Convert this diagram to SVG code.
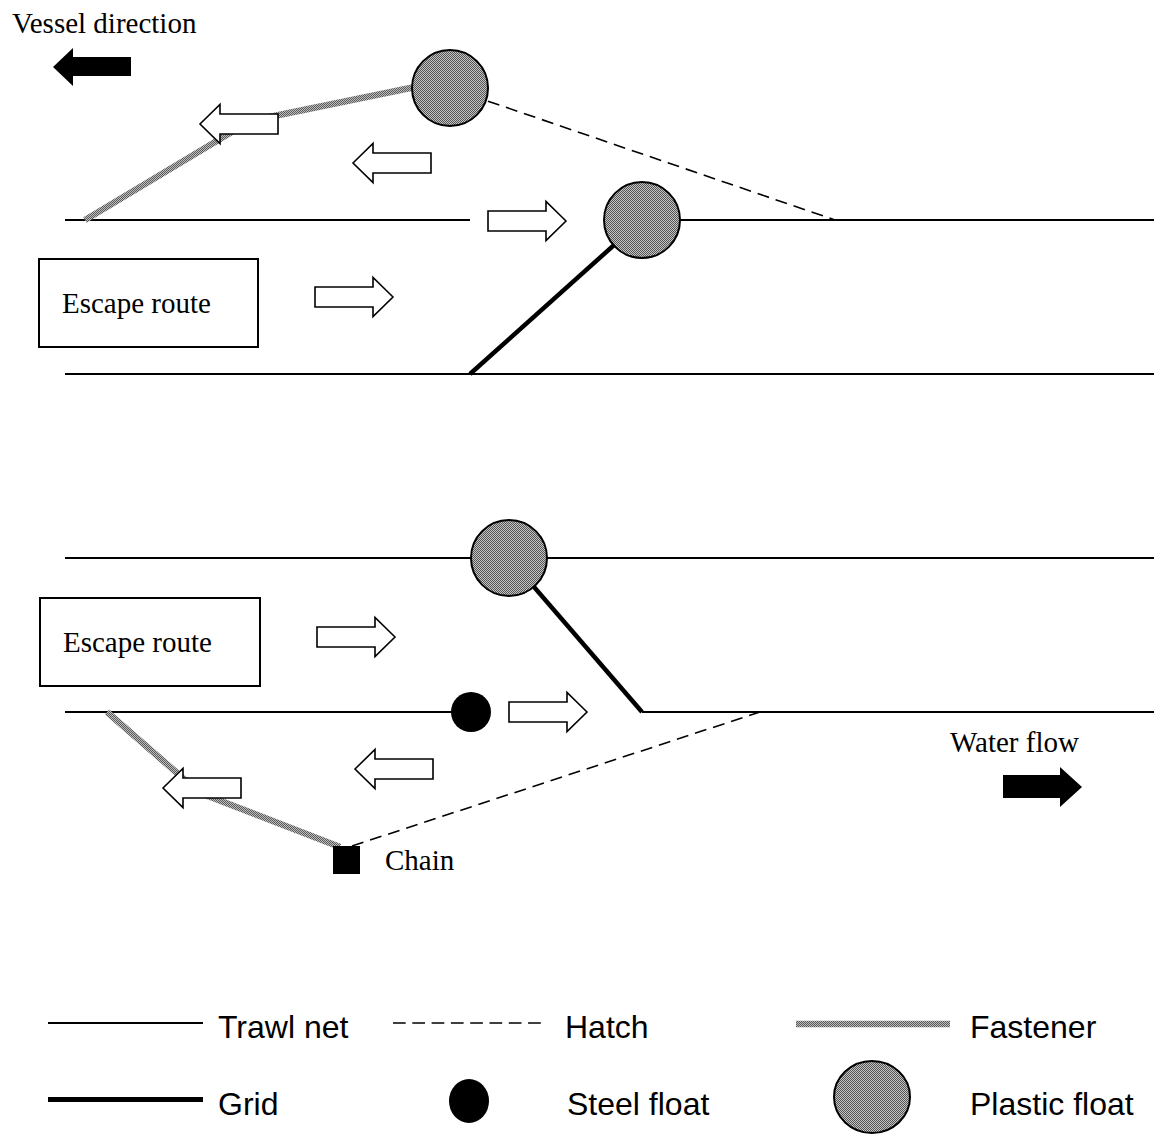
<svg xmlns="http://www.w3.org/2000/svg" xmlns:xlink="http://www.w3.org/1999/xlink" width="1154" height="1135" viewBox="0 0 1154 1135">
<style>
.net{stroke:#000;stroke-width:2;fill:none}
.grid{stroke:#000;stroke-width:4.5;fill:none}
.hatch{stroke:#000;stroke-width:1.6;stroke-dasharray:12 7;fill:none}
.fast{stroke:url(#chk2);stroke-width:6.5;fill:none}
.pf{fill:url(#chk);stroke:#000;stroke-width:2}
.oa{fill:#fff;stroke:#000;stroke-width:1.6;stroke-linejoin:miter}
.ser{font-family:"Liberation Serif","Times New Roman",serif;font-size:29px;fill:#000}
.san{font-family:"Liberation Sans",Arial,sans-serif;font-size:32px;fill:#000}
</style>
<defs>
<pattern id="chk" width="2" height="2" patternUnits="userSpaceOnUse">
<rect width="2" height="2" fill="#c4c4c4"/>
<rect width="1" height="1" fill="#555"/>
<rect x="1" y="1" width="1" height="1" fill="#555"/>
</pattern>
<pattern id="chk2" width="2" height="2" patternUnits="userSpaceOnUse">
<rect width="2" height="2" fill="#bdbdbd"/>
<rect width="1" height="1" fill="#5a5a5a"/>
<rect x="1" y="1" width="1" height="1" fill="#5a5a5a"/>
</pattern>
<path id="arrL" d="M0,0 L20,-19.5 L20,-10 L78,-10 L78,10 L20,10 L20,19.5 Z"/>
<path id="arrR" d="M0,0 L-20,-19.5 L-20,-10 L-78,-10 L-78,10 L-20,10 L-20,19.5 Z"/>
</defs>
<rect width="1154" height="1135" fill="#fff"/>

<g id="connectors">
<!-- top section -->
<line class="net" x1="65" y1="220" x2="470" y2="220"/>
<line class="net" x1="642" y1="220" x2="1154" y2="220"/>
<line class="net" x1="65" y1="374" x2="1154" y2="374"/>
<line class="hatch" x1="470" y1="95" x2="835" y2="220"/>
<line class="grid" x1="470" y1="374" x2="642" y2="220"/>
<polyline class="fast" points="85,220 250,121 420,86"/>
<!-- bottom section -->
<line class="net" x1="65" y1="558" x2="1154" y2="558"/>
<line class="net" x1="65" y1="712" x2="471" y2="712"/>
<line class="net" x1="642" y1="712" x2="1154" y2="712"/>
<line class="grid" x1="642" y1="712" x2="509" y2="558"/>
<line class="hatch" x1="352" y1="846" x2="760" y2="712"/>
<polyline class="fast" points="107,712 200,793 340,847"/>
</g>

<g id="plastic-float-top-1"><circle class="pf" cx="450" cy="88" r="38"/></g>
<g id="plastic-float-top-2"><circle class="pf" cx="642" cy="220" r="38"/></g>
<g id="plastic-float-bottom"><circle class="pf" cx="509" cy="558" r="38"/></g>
<g id="steel-float-bottom"><circle cx="471" cy="712" r="20" fill="#000"/></g>
<g id="chain"><rect x="333" y="846" width="27" height="28" fill="#000"/><text class="ser" x="385" y="870">Chain</text></g>

<g id="escape-route-top"><rect x="39" y="259" width="219" height="88" fill="#fff" stroke="#000" stroke-width="2"/><text class="ser" x="62" y="313">Escape route</text></g>
<g id="escape-route-bottom"><rect x="40" y="598" width="220" height="88" fill="#fff" stroke="#000" stroke-width="2"/><text class="ser" x="63" y="652">Escape route</text></g>

<g id="flow-arrows">
<use xlink:href="#arrL" x="200" y="124" class="oa"/>
<use xlink:href="#arrL" x="353" y="163" class="oa"/>
<use xlink:href="#arrR" x="566" y="221" class="oa"/>
<use xlink:href="#arrR" x="393" y="297" class="oa"/>
<use xlink:href="#arrR" x="395" y="637" class="oa"/>
<use xlink:href="#arrR" x="587" y="712" class="oa"/>
<use xlink:href="#arrL" x="355" y="769" class="oa"/>
<use xlink:href="#arrL" x="163" y="788" class="oa"/>
</g>

<g id="vessel-direction">
<text class="ser" x="12" y="33">Vessel direction</text>
<path d="M53,67 L73,48 L73,57 L131,57 L131,76 L73,76 L73,86 Z" fill="#000"/>
</g>
<g id="water-flow">
<text class="ser" x="950" y="752">Water flow</text>
<path d="M1082,787 L1060,767 L1060,775 L1003,775 L1003,798 L1060,798 L1060,807 Z" fill="#000"/>
</g>

<g id="legend">
<g id="legend-trawl"><line class="net" x1="48" y1="1023" x2="203" y2="1023"/><text class="san" x="218" y="1038">Trawl net</text></g>
<g id="legend-hatch"><line x1="393" y1="1023" x2="542" y2="1023" stroke="#000" stroke-width="1.6" stroke-dasharray="12.7 6.6"/><text class="san" x="565" y="1038">Hatch</text></g>
<g id="legend-fastener"><line class="fast" x1="796" y1="1024" x2="950" y2="1024"/><text class="san" x="970" y="1038">Fastener</text></g>
<g id="legend-grid"><line x1="48" y1="1099.5" x2="203" y2="1099.5" stroke="#000" stroke-width="5"/><text class="san" x="218" y="1115">Grid</text></g>
<g id="legend-steel"><ellipse cx="469" cy="1101" rx="20" ry="22" fill="#000"/><text class="san" x="567" y="1115">Steel float</text></g>
<g id="legend-plastic"><ellipse class="pf" cx="872" cy="1097" rx="38" ry="36"/><text class="san" x="970" y="1115">Plastic float</text></g>
</g>
</svg>
